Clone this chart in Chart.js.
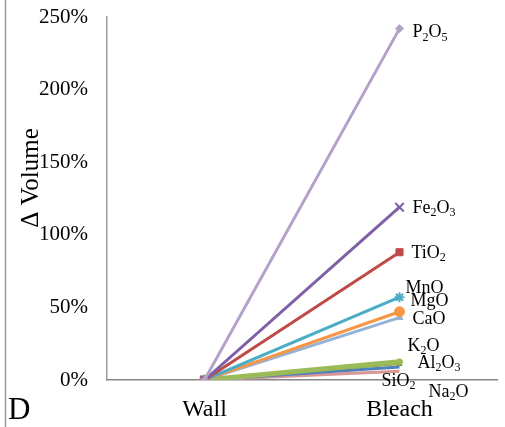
<!DOCTYPE html>
<html>
<head>
<meta charset="utf-8">
<script src="https://cdn.jsdelivr.net/npm/chart.js@4.4.0/dist/chart.umd.min.js"></script>
<style>
html,body{margin:0;padding:0;background:#fff;}
#wrap{width:505px;height:427px;position:relative;}
</style>
</head>
<body>
<div id="wrap"><canvas id="c" width="505" height="427"></canvas></div>
<script>
// ---- data ----
const categories = ["Wall", "Bleach"];
const oxides = ["P2O5", "Fe2O3", "TiO2", "MnO", "MgO", "CaO", "K2O", "Al2O3", "SiO2", "Na2O"];
const wallValues   = [0, 0, 0, 0, 0, 0, 0, 0, 0, 0];
const bleachValues = [242, 119, 88, 57, 47, 43, 12.5, 11, 9, 6];
const yTicks = [0, 50, 100, 150, 200, 250];
const yTitle = "\u0394 Volume";
const panelLetter = "D";

// ---- styles ----
const colors  = ["#B3A2C7", "#7F60A8", "#BE4B48", "#4BACC6", "#F79646", "#95B3D7", "#9BBB59", "#77933C", "#4F81BD", "#D99694"];
const markers = ["rectRot", "crossRot", "rect", "star", "circle", "triangle", "circle", "triangle", "circle", "circle"];
const radii   = [4, 6, 5, 5, 5, 4, 3, 3, 0, 0];
const widths  = [3, 3, 3, 3, 3, 3, 5, 2, 3, 3];
const labelOffsets = [[13,4],[13,1],[12,1],[6,-9],[11,-10],[13,2],[8,-16],[18,-1],[-18,14],[29,21]];
const FONT = '"Liberation Serif", "Times New Roman", serif';

const datasets = oxides.map((name, i) => ({
  label: name,
  data: [wallValues[i], bleachValues[i]],
  borderColor: colors[i],
  backgroundColor: colors[i],
  borderWidth: widths[i],
  pointStyle: markers[i],
  pointRadius: radii[i],
  pointBorderWidth: markers[i] === "crossRot" || markers[i] === "star" ? 2 : 1,
  pointBorderColor: colors[i],
  pointBackgroundColor: colors[i],
  tension: 0,
  order: i
}));

function drawChem(ctx, text, x, y, size) {
  let cx = x;
  const parts = text.match(/[A-Za-z]+|\d+/g);
  for (const p of parts) {
    if (/\d/.test(p)) {
      ctx.font = Math.round(size * 0.65) + "px " + FONT;
      ctx.fillText(p, cx, y + size * 0.28);
      cx += ctx.measureText(p).width;
    } else {
      ctx.font = size + "px " + FONT;
      ctx.fillText(p, cx, y);
      cx += ctx.measureText(p).width;
    }
  }
}

const decor = {
  id: "decor",
  afterDraw(chart) {
    const ctx = chart.ctx;
    ctx.save();
    // left frame line
    ctx.strokeStyle = "#9a9a9a";
    ctx.lineWidth = 1.5;
    ctx.beginPath(); ctx.moveTo(5.5, 0); ctx.lineTo(5.5, 427); ctx.stroke();
    // panel letter
    ctx.fillStyle = "#000";
    ctx.font = "31px " + FONT;
    ctx.textBaseline = "alphabetic";
    ctx.textAlign = "left";
    ctx.fillText(panelLetter, 8, 419);
    // y title
    ctx.save();
    ctx.translate(31, 178);
    ctx.rotate(-Math.PI / 2);
    ctx.textAlign = "center";
    ctx.textBaseline = "middle";
    ctx.font = "25px " + FONT;
    ctx.fillText(yTitle, 0, 0);
    ctx.restore();
    // data labels
    ctx.textAlign = "left";
    ctx.textBaseline = "middle";
    chart.data.datasets.forEach((ds, i) => {
      const meta = chart.getDatasetMeta(i);
      const pt = meta.data[meta.data.length - 1];
      drawChem(ctx, ds.label, pt.x + labelOffsets[i][0], pt.y + labelOffsets[i][1], 18);
    });
    ctx.restore();
  }
};

new Chart(document.getElementById("c"), {
  type: "line",
  data: { labels: categories, datasets: datasets },
  options: {
    responsive: false,
    animation: false,
    devicePixelRatio: 1,
    layout: { padding: { top: 17, right: 0, left: 0, bottom: 0 } },
    plugins: { legend: { display: false }, tooltip: { enabled: false } },
    scales: {
      x: {
        type: "category",
        offset: true,
        grid: { display: false, drawTicks: false },
        border: { display: true, color: "#868686", width: 1.5 },
        ticks: { color: "#000", font: { family: FONT, size: 24 }, padding: 15, maxRotation: 0 },
        afterFit(s) { s.height = 47; s.paddingLeft = 0; s.paddingRight = 0; }
      },
      y: {
        min: 0, max: 250,
        afterBuildTicks(s) { s.ticks = yTicks.map(v => ({ value: v })); },
        grid: { display: false, drawTicks: false },
        border: { display: true, color: "#9a9a9a", width: 1.5 },
        ticks: { color: "#000", font: { family: FONT, size: 21 }, padding: 19, callback: v => v + "%" },
        afterFit(s) { s.width = 107; s.paddingTop = 0; s.paddingBottom = 0; }
      }
    }
  },
  plugins: [decor]
});
</script>
</body>
</html>
